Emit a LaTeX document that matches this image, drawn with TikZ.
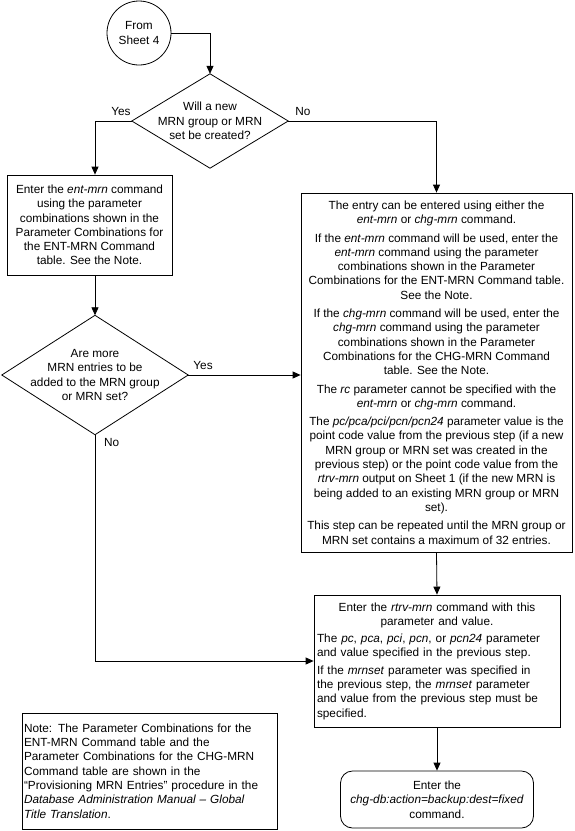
\documentclass[tikz,border=0pt]{standalone}
\usepackage{fontspec}
\setmainfont{Liberation Sans}
\usetikzlibrary{arrows.meta}
\tikzset{
  flecha/.style={draw, line width=0.8pt, -{Triangle[length=8pt,width=7pt]}},
  caja/.style={draw, line width=0.8pt, inner sep=2pt, align=center},
  decision/.style={inner sep=0pt, align=center},
  etiqueta/.style={inner sep=1pt}
}
\begin{document}
\begin{tikzpicture}[x=1pt, y=-1pt, font=\fontsize{11.8}{14.3}\selectfont]
  \useasboundingbox (0,0) rectangle (575,831);

  % Conector de inicio
  \node[draw, circle, line width=0.8pt, minimum size=64pt, inner sep=0pt, align=center] (inicio) at (139,33) {From\\Sheet 4};

  % Primera decision
  \node[decision, minimum width=156pt, minimum height=94pt] (dec1) at (210,121) {Will a new\\MRN group or MRN\\set be created?};
  \draw[line width=0.8pt] (dec1.north) -- (dec1.east) -- (dec1.south) -- (dec1.west) -- cycle;

  % Rama Yes: ent-mrn
  \node[caja, minimum width=165pt, minimum height=100pt] (paso1) at (89.5,225) {Enter the \textit{ent-mrn} command\\using the parameter\\combinations shown in the\\Parameter Combinations for\\the ENT-MRN Command\\table. See the Note.};

  % Rama No: ent-mrn o chg-mrn
  \node[caja, minimum width=271pt, minimum height=359pt, inner sep=1pt] (paso2) at (436.5,372.5) {The entry can be entered using either the\\\textit{ent-mrn} or \textit{chg-mrn} command.\\[4pt]If the \textit{ent-mrn} command will be used, enter the\\\textit{ent-mrn} command using the parameter\\combinations shown in the Parameter\\Combinations for the ENT-MRN Command table.\\See the Note.\\[4pt]If the \textit{chg-mrn} command will be used, enter the\\\textit{chg-mrn} command using the parameter\\combinations shown in the Parameter\\Combinations for the CHG-MRN Command\\table. See the Note.\\[4pt]The \textit{rc} parameter cannot be specified with the\\\textit{ent-mrn} or \textit{chg-mrn} command.\\[4pt]The \textit{pc/pca/pci/pcn/pcn24} parameter value is the\\point code value from the previous step (if a new\\MRN group or MRN set was created in the\\previous step) or the point code value from the\\\textit{rtrv-mrn} output on Sheet 1 (if the new MRN is\\being added to an existing MRN group or MRN\\set).\\[4pt]This step can be repeated until the MRN group or\\MRN set contains a maximum of 32 entries.};

  % Segunda decision
  \node[decision, minimum width=186pt, minimum height=119pt] (dec2) at (95,375) {Are more\\MRN entries to be\\added to the MRN group\\or MRN set?};
  \draw[line width=0.8pt] (dec2.north) -- (dec2.east) -- (dec2.south) -- (dec2.west) -- cycle;

  % rtrv-mrn
  \node[caja, text width=240pt, minimum height=132pt, align=left, inner sep=3pt] (paso3) at (437,661) {{\centering Enter the \textit{rtrv-mrn} command with this\\parameter and value.\par}\vspace{3pt}The \textit{pc}, \textit{pca}, \textit{pci}, \textit{pcn}, or \textit{pcn24} parameter\\and value specified in the previous step.\\[3pt]If the \textit{mrnset} parameter was specified in\\the previous step, the \textit{mrnset} parameter\\and value from the previous step must be\\specified.};

  % Fin
  \node[caja, rounded corners=12pt, minimum width=193pt, minimum height=57pt] (fin) at (437,799.5) {Enter the\\\textit{chg-db:action=backup:dest=fixed}\\command.};

  % Nota
  \node[caja, text width=251pt, minimum height=116pt, align=left] (nota) at (149.5,771) {Note: The Parameter Combinations for the\\ENT-MRN Command table and the\\Parameter Combinations for the CHG-MRN\\Command table are shown in the\\“Provisioning MRN Entries” procedure in the\\\textit{Database Administration Manual – Global}\\\textit{Title Translation}.};

  % Conectores
  \draw[flecha] (inicio.east) -| (dec1.north);
  \draw[flecha] (dec1.west) -| ([xshift=5.5pt]paso1.north);
  \draw[flecha] (dec1.east) -| (paso2.north);
  \draw[flecha] ([xshift=5.5pt]paso1.south) -- (dec2.north);
  \draw[flecha] (dec2.east) -- (dec2.east -| paso2.west);
  \draw[flecha] (paso2.south) -- (paso3.north);
  \draw[flecha] (dec2.south) |- (paso3.west);
  \draw[flecha] (paso3.south) -- (fin.north);

  % Etiquetas
  \node[etiqueta, anchor=south east] (si1) at (dec1.west) [yshift=4pt] {Yes};
  \node[etiqueta, anchor=south west] (no1) at (dec1.east) [yshift=4pt, xshift=6pt] {No};
  \node[etiqueta, anchor=south west] (si2) at (dec2.east) [yshift=4pt, xshift=4pt] {Yes};
  \node[etiqueta, anchor=north west] (no2) at (dec2.south) [yshift=-2pt, xshift=8pt] {No};
\end{tikzpicture}
\end{document}
